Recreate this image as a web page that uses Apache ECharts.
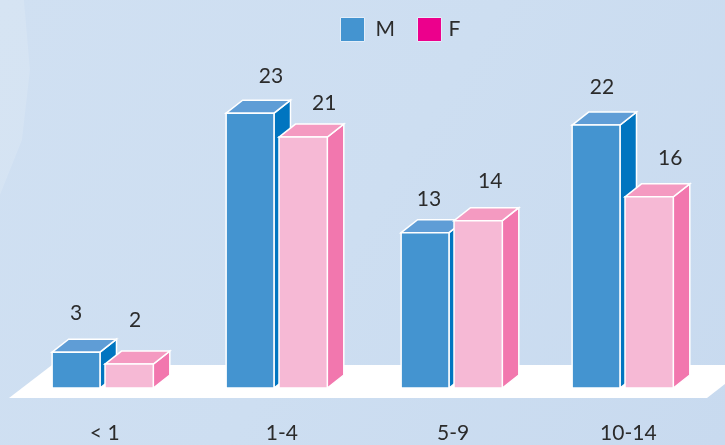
<!DOCTYPE html>
<html><head><meta charset="utf-8">
<style>html,body{margin:0;padding:0;background:#cbdcf0}#c{width:725px;height:445px}</style>
<script src="https://cdn.jsdelivr.net/npm/echarts@6/dist/echarts.min.js"></script>
</head><body><div id="c"></div>
<script>
const categories = ['< 1', '1-4', '5-9', '10-14'];
const maleValues = [3, 23, 13, 22];
const femaleValues = [2, 21, 14, 16];

const FONT = 'Lato, "Open Sans", sans-serif';
const TEXT = '#2b2b2b';
const depth = { x: 16.5, y: 13 };
const faces = {
  M: { front: '#4494d0', top: '#5f9dd6', side: '#0075c0', legend: '#4494d0' },
  F: { front: '#f6b9d5', top: '#f49ac1', side: '#f277ae', legend: '#ec008c' }
};
// hand placement of the value labels relative to each bar's front-face centre
const labelShift = {
  M: [[0, -39], [21, -37], [4, -33], [6, -38]],
  F: [[6, -44], [21, -34], [12, -39], [21, -39]]
};
// small per-group drift of the hand-drawn original, and category label nudges
const groupShift = [0.3, 0.6, 1.9, -0.8];
const tickShift = [5, 12, 7, 10];

function box(key, from, to) {
  const f = faces[key];
  const stroke = { stroke: '#fff', lineWidth: 1.5 };
  return function (params, api) {
    const i = api.value(0);
    const p = api.coord([i, api.value(1)]);
    const base = api.coord([i, 0]);
    const band = api.size([1, 0])[0];
    const x0 = p[0] + band * from + groupShift[i], x1 = p[0] + band * to + groupShift[i];
    const t = p[1], b = base[1], dx = depth.x, dy = depth.y;
    const s = labelShift[key][i];
    const poly = (points, fill) => ({
      type: 'polygon', shape: { points },
      style: Object.assign({ fill }, stroke)
    });
    return {
      type: 'group',
      children: [
        poly([[x1, b], [x1 + dx, b - dy], [x1 + dx, t - dy], [x1, t]], f.side),
        poly([[x0, t], [x0 + dx, t - dy], [x1 + dx, t - dy], [x1, t]], f.top),
        poly([[x0, t], [x1, t], [x1, b], [x0, b]], f.front),
        {
          type: 'text',
          style: {
            text: String(api.value(1)),
            x: (x0 + x1) / 2 + s[0], y: t + s[1],
            align: 'center', verticalAlign: 'middle',
            font: '21px ' + FONT, fill: TEXT
          }
        }
      ]
    };
  };
}

const chart = echarts.init(document.getElementById('c'), null, { renderer: 'canvas' });
chart.setOption({
  animation: false,
  backgroundColor: {
    type: 'linear', x: 0, y: 0, x2: 1, y2: 1,
    colorStops: [{ offset: 0, color: '#d0e0f2' }, { offset: 0.5, color: '#cddef1' }, { offset: 1, color: '#c8daef' }]
  },
  graphic: [
    { type: 'polygon', silent: true, z: 0, shape: { points: [[0, 0], [24, 0], [30, 70], [22, 140], [0, 195]] }, style: { fill: 'rgba(255,255,255,0.13)' } },
    { type: 'polygon', silent: true, z: 1, shape: { points: [[52, 365], [725, 365], [725, 384], [707, 398], [9, 398]] }, style: { fill: '#ffffff' } }
  ],
  legend: {
    left: 335, top: 12, itemWidth: 24, itemHeight: 24, itemGap: 22,
    icon: 'rect',
    textStyle: { fontFamily: FONT, fontSize: 21, color: TEXT },
    data: [
      { name: 'M', textStyle: { padding: [0, 0, 0, 6] }, itemStyle: { color: faces.M.legend, borderColor: '#e4eef9', borderWidth: 1 } },
      { name: 'F', textStyle: { padding: [0, 0, 0, 2] }, itemStyle: { color: faces.F.legend, borderColor: '#e4eef9', borderWidth: 1 } }
    ]
  },
  grid: { left: 15.35, width: 694.8, top: 29.5, height: 358.5 },
  xAxis: {
    type: 'category',
    data: categories.map((c, i) => ({ value: c, textStyle: { padding: [0, 0, 0, tickShift[i]] } })),
    axisLine: { show: false }, axisTick: { show: false },
    axisLabel: { fontFamily: FONT, fontSize: 21, color: TEXT, margin: 35 }
  },
  yAxis: { type: 'value', min: 0, max: 30, show: false, splitLine: { show: false } },
  series: [
    {
      name: 'M', type: 'custom', z: 3, clip: false,
      itemStyle: { color: faces.M.legend },
      renderItem: box('M', -0.29, -0.0145),
      encode: { x: 0, y: 1 },
      data: maleValues.map((v, i) => [i, v])
    },
    {
      name: 'F', type: 'custom', z: 4, clip: false,
      itemStyle: { color: faces.F.legend },
      renderItem: box('F', 0.0145, 0.2925),
      encode: { x: 0, y: 1 },
      data: femaleValues.map((v, i) => [i, v])
    }
  ]
});
</script></body></html>
